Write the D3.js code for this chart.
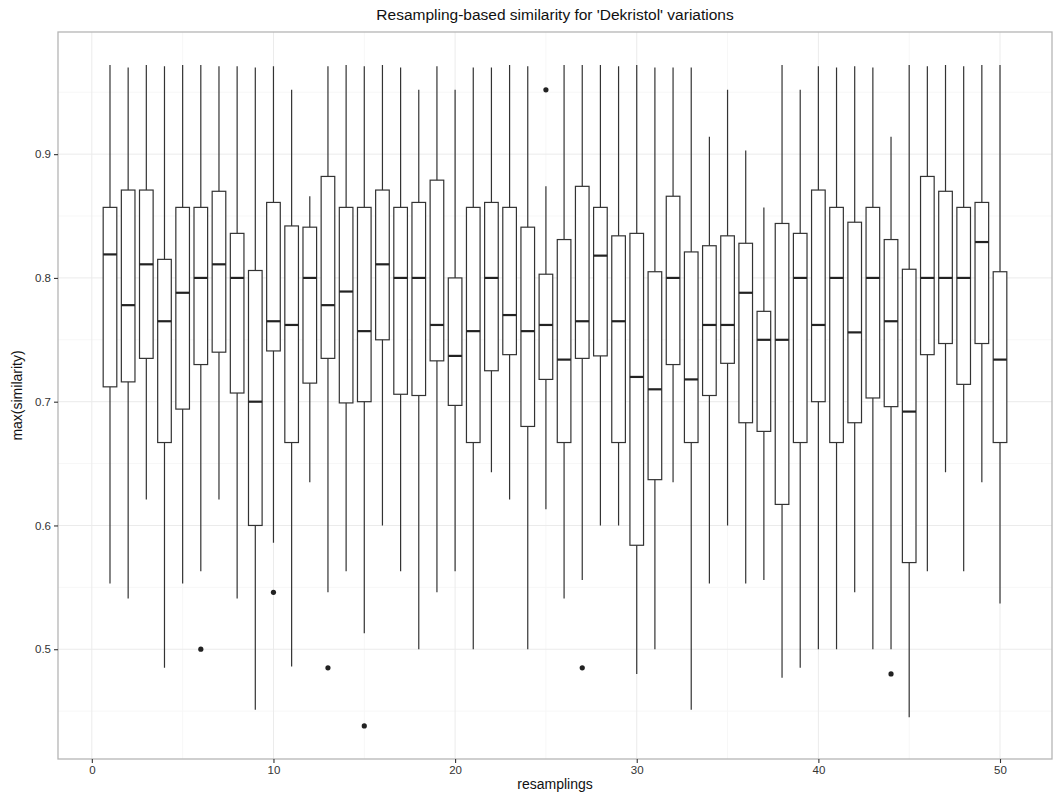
<!DOCTYPE html>
<html lang="en">
<head>
<meta charset="UTF-8">
<title>Resampling-based similarity</title>
<script src="https://d3js.org/d3.v7.min.js"></script>
<style>
  body { margin: 0; background: #fff; }
  svg text { font-family: "Liberation Sans", Arial, Helvetica, sans-serif; }
</style>
</head>
<body>
<div id="chart"></div>
<script>
// resampling index of each box
var resamplings = [1,2,3,4,5,6,7,8,9,10,11,12,13,14,15,16,17,18,19,20,
  21,22,23,24,25,26,27,28,29,30,31,32,33,34,35,36,37,38,39,40,
  41,42,43,44,45,46,47,48,49,50];

// five-number summaries
var lower = [0.553,0.541,0.621,0.485,0.553,0.563,0.621,0.541,0.451,0.586,
  0.486,0.635,0.546,0.563,0.513,0.600,0.563,0.500,0.546,0.563,
  0.500,0.643,0.621,0.500,0.613,0.541,0.556,0.600,0.600,0.480,
  0.500,0.635,0.451,0.553,0.600,0.553,0.556,0.477,0.485,0.500,
  0.500,0.546,0.500,0.500,0.445,0.563,0.643,0.563,0.635,0.537];
var q1 = [0.712,0.716,0.735,0.667,0.694,0.730,0.740,0.707,0.600,0.741,
  0.667,0.715,0.735,0.699,0.700,0.750,0.706,0.705,0.733,0.697,
  0.667,0.725,0.738,0.680,0.718,0.667,0.735,0.737,0.667,0.584,
  0.637,0.730,0.667,0.705,0.731,0.683,0.676,0.617,0.667,0.700,
  0.667,0.683,0.703,0.696,0.570,0.738,0.747,0.714,0.747,0.667];
var median = [0.819,0.778,0.811,0.765,0.788,0.800,0.811,0.800,0.700,0.765,
  0.762,0.800,0.778,0.789,0.757,0.811,0.800,0.800,0.762,0.737,
  0.757,0.800,0.770,0.757,0.762,0.734,0.765,0.818,0.765,0.720,
  0.710,0.800,0.718,0.762,0.762,0.788,0.750,0.750,0.800,0.762,
  0.800,0.756,0.800,0.765,0.692,0.800,0.800,0.800,0.829,0.734];
var q3 = [0.857,0.871,0.871,0.815,0.857,0.857,0.870,0.836,0.806,0.861,
  0.842,0.841,0.882,0.857,0.857,0.871,0.857,0.861,0.879,0.800,
  0.857,0.861,0.857,0.841,0.803,0.831,0.874,0.857,0.834,0.836,
  0.805,0.866,0.821,0.826,0.834,0.828,0.773,0.844,0.836,0.871,
  0.857,0.845,0.857,0.831,0.807,0.882,0.870,0.857,0.861,0.805];
var upper = [0.972,0.970,0.972,0.971,0.972,0.972,0.971,0.971,0.970,0.971,
  0.952,0.866,0.971,0.972,0.971,0.972,0.970,0.952,0.971,0.952,
  0.970,0.970,0.972,0.971,0.874,0.972,0.972,0.972,0.971,0.972,
  0.970,0.970,0.970,0.914,0.952,0.903,0.857,0.972,0.952,0.971,
  0.970,0.971,0.970,0.914,0.972,0.971,0.972,0.971,0.972,0.972];

// outlying points
var outlierX = [6, 10, 13, 15, 25, 27, 44];
var outlierY = [0.500, 0.546, 0.485, 0.438, 0.952, 0.485, 0.480];

var xTicks = [0, 10, 20, 30, 40, 50];
var xMinor = [5, 15, 25, 35, 45];
var yTicks = [0.5, 0.6, 0.7, 0.8, 0.9];
var yMinor = [0.45, 0.55, 0.65, 0.75, 0.85, 0.95];

var W = 1058, H = 794;
var margin = {top: 32, right: 6, bottom: 35, left: 58};
var width = W - margin.left - margin.right,
    height = H - margin.top - margin.bottom;
var boxW = 0.75;

var data = resamplings.map(function(r, i) {
  return {r: r, lo: lower[i], q1: q1[i], med: median[i], q3: q3[i], hi: upper[i]};
});
var outliers = outlierX.map(function(r, i) { return {r: r, v: outlierY[i]}; });

// ggplot-like 5% expansion
function expand(ext) {
  var d = (ext[1] - ext[0]) * 0.05;
  return [ext[0] - d, ext[1] + d];
}
var xExt = [d3.min(resamplings) - boxW / 2, d3.max(resamplings) + boxW / 2];
var yExt = [Math.min(d3.min(lower), d3.min(outlierY)), Math.max(d3.max(upper), d3.max(outlierY))];

var x = d3.scaleLinear().domain(expand(xExt)).range([0, width]);
var y = d3.scaleLinear().domain(expand(yExt)).range([height, 0]);

var svg = d3.select("#chart").append("svg")
    .attr("width", W).attr("height", H);
svg.append("rect").attr("width", W).attr("height", H).attr("fill", "#fff");

var g = svg.append("g")
    .attr("transform", "translate(" + margin.left + "," + margin.top + ")");

// minor grid
g.selectAll(".xminor").data(xMinor).enter().append("line")
  .attr("x1", x).attr("x2", x).attr("y1", 0).attr("y2", height)
  .attr("stroke", "#f7f7f7").attr("stroke-width", 1);
g.selectAll(".yminor").data(yMinor).enter().append("line")
  .attr("y1", y).attr("y2", y).attr("x1", 0).attr("x2", width)
  .attr("stroke", "#f7f7f7").attr("stroke-width", 1);
// major grid
g.selectAll(".xmajor").data(xTicks).enter().append("line")
  .attr("x1", x).attr("x2", x).attr("y1", 0).attr("y2", height)
  .attr("stroke", "#ebebeb").attr("stroke-width", 1);
g.selectAll(".ymajor").data(yTicks).enter().append("line")
  .attr("y1", y).attr("y2", y).attr("x1", 0).attr("x2", width)
  .attr("stroke", "#ebebeb").attr("stroke-width", 1);

var bw = x(boxW) - x(0);
var boxes = g.selectAll(".box").data(data).enter().append("g");

// whiskers
boxes.append("line")
  .attr("x1", function(d) { return x(d.r); }).attr("x2", function(d) { return x(d.r); })
  .attr("y1", function(d) { return y(d.hi); }).attr("y2", function(d) { return y(d.lo); })
  .attr("stroke", "#333").attr("stroke-width", 1.2);
// box
boxes.append("rect")
  .attr("x", function(d) { return x(d.r) - bw / 2; })
  .attr("width", bw)
  .attr("y", function(d) { return y(d.q3); })
  .attr("height", function(d) { return y(d.q1) - y(d.q3); })
  .attr("fill", "#fff").attr("stroke", "#333").attr("stroke-width", 1.2);
// median
boxes.append("line")
  .attr("x1", function(d) { return x(d.r) - bw / 2; })
  .attr("x2", function(d) { return x(d.r) + bw / 2; })
  .attr("y1", function(d) { return y(d.med); }).attr("y2", function(d) { return y(d.med); })
  .attr("stroke", "#222").attr("stroke-width", 2.2);

g.selectAll(".out").data(outliers).enter().append("circle")
  .attr("cx", function(d) { return x(d.r); })
  .attr("cy", function(d) { return y(d.v); })
  .attr("r", 2.6).attr("fill", "#222");

// panel border
g.append("rect").attr("x", 0).attr("y", 0).attr("width", width).attr("height", height)
  .attr("fill", "none").attr("stroke", "#b5b5b5").attr("stroke-width", 1.3);

// axes
var xAxis = g.append("g").attr("transform", "translate(0," + height + ")")
  .call(d3.axisBottom(x).tickValues(xTicks).tickSize(4).tickPadding(3).tickFormat(d3.format("d")));
var yAxis = g.append("g")
  .call(d3.axisLeft(y).tickValues(yTicks).tickSize(4).tickPadding(3).tickFormat(d3.format(".1f")));
[xAxis, yAxis].forEach(function(a) {
  a.select(".domain").remove();
  a.selectAll(".tick line").attr("stroke", "#333").attr("stroke-width", 1.1);
  a.selectAll(".tick text").attr("fill", "#333")
    .style("font-size", "11.5px").style("font-family", "'Liberation Sans', Arial, sans-serif");
});

// titles
svg.append("text")
  .attr("x", margin.left + width / 2).attr("y", 20)
  .attr("text-anchor", "middle").style("font-size", "15.5px").attr("fill", "#111")
  .text("Resampling-based similarity for 'Dekristol' variations");
svg.append("text")
  .attr("x", margin.left + width / 2).attr("y", 789)
  .attr("text-anchor", "middle").style("font-size", "14px").attr("fill", "#111")
  .text("resamplings");
svg.append("text")
  .attr("transform", "translate(22," + (margin.top + height / 2) + ") rotate(-90)")
  .attr("text-anchor", "middle").style("font-size", "14px").attr("fill", "#111")
  .text("max(similarity)");
</script>
</body>
</html>
